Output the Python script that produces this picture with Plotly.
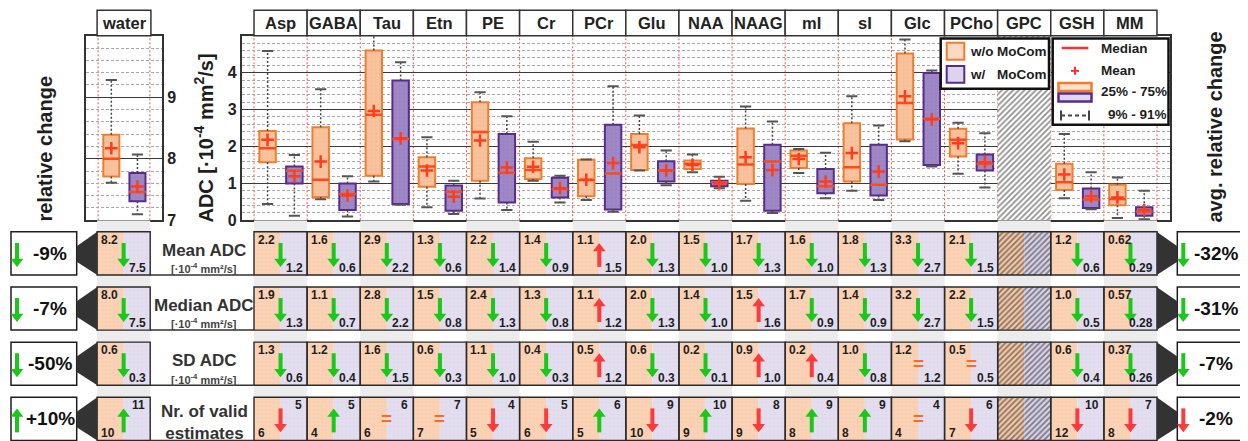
import plotly.graph_objects as go

# page body keeps its default 8px margin; the photographed area is slightly taller than
# the window, so vertical positions are stretched by S_Y to land on the reference pixels
PAGE_OFF = 8
S_Y = 1.0235
WF, HF = 1240, 446
FONT = "Liberation Sans"
TXT = "#262626"

# ---------------------------------------------------------------- data
METABS = ["Asp", "GABA", "Tau", "Etn", "PE", "Cr", "PCr", "Glu", "NAA", "NAAG",
          "mI", "sI", "Glc", "PCho", "GPC", "GSH", "MM"]

# box statistics w/o MoCom (None = no valid estimates)
WO_P9 = [0.44, 0.57, 1.05, 0.35, 0.59, 1.07, 0.55, 1.35, 1.30, 0.53, 1.28, 0.80, 2.14, 1.26, None, 0.60, 0.06]
WO_Q1 = [1.57, 0.63, 1.21, 0.91, 1.07, 1.12, 0.65, 1.36, 1.39, 0.98, 1.42, 1.05, 2.19, 1.73, None, 0.82, 0.41]
WO_MED = [1.95, 1.10, 2.86, 1.46, 2.39, 1.36, 1.09, 2.04, 1.53, 1.51, 1.75, 1.44, 3.18, 2.18, None, 1.03, 0.58]
WO_Q3 = [2.42, 2.52, 4.60, 1.71, 3.20, 1.68, 1.64, 2.34, 1.62, 2.49, 1.89, 2.63, 4.52, 2.48, None, 1.53, 0.96]
WO_P91 = [4.59, 3.55, 5.60, 2.25, 3.47, 2.13, 1.65, 2.84, 1.78, 3.08, 1.93, 3.36, 4.90, 2.64, None, 2.34, 1.16]
WO_MEAN = [2.18, 1.59, 2.96, 1.35, 2.16, 1.45, 1.10, 1.98, 1.50, 1.71, 1.66, 1.82, 3.36, 2.09, None, 1.24, 0.62]

# box statistics w/ MoCom
W_P9 = [0.12, 0.10, 0.42, 0.17, 0.28, 0.48, 0.23, 0.95, 0.87, 0.20, 0.60, 0.55, 1.46, 0.89, None, 0.30, 0.03]
W_Q1 = [1.00, 0.28, 0.44, 0.26, 0.48, 0.62, 0.29, 1.05, 0.92, 0.26, 0.73, 0.67, 1.50, 1.35, None, 0.33, 0.12]
W_MED = [1.34, 0.71, 2.20, 0.77, 1.29, 0.85, 1.27, 1.35, 1.03, 1.59, 0.92, 0.96, 2.75, 1.53, None, 0.56, 0.24]
W_Q3 = [1.46, 1.00, 3.79, 0.94, 2.34, 1.15, 2.59, 1.60, 1.07, 2.05, 1.39, 2.05, 3.99, 1.78, None, 0.86, 0.35]
W_P91 = [1.77, 1.19, 4.28, 1.07, 2.82, 1.21, 3.63, 1.89, 1.18, 2.68, 1.83, 2.57, 4.06, 2.36, None, 1.30, 0.80]
W_MEAN = [1.19, 0.67, 2.22, 0.64, 1.43, 0.87, 1.55, 1.35, 1.00, 1.36, 1.05, 1.32, 2.73, 1.57, None, 0.65, 0.28]

# water (relative change): p9, q1, median, q3, p91, mean
WATER_WO = [7.61, 7.71, 8.00, 8.39, 9.28, 8.17]
WATER_W = [7.10, 7.31, 7.46, 7.77, 8.07, 7.55]

# table: first entry = water, then METABS order
TAB_COLS = ["water"] + METABS
T_MEAN_WO = [8.2, 2.2, 1.6, 2.9, 1.3, 2.2, 1.4, 1.1, 2.0, 1.5, 1.7, 1.6, 1.8, 3.3, 2.1, None, 1.2, 0.62]
T_MEAN_W = [7.5, 1.2, 0.6, 2.2, 0.6, 1.4, 0.9, 1.5, 1.3, 1.0, 1.3, 1.0, 1.3, 2.7, 1.5, None, 0.6, 0.29]
T_MED_WO = [8.0, 1.9, 1.1, 2.8, 1.5, 2.4, 1.3, 1.1, 2.0, 1.4, 1.5, 1.7, 1.4, 3.2, 2.2, None, 1.0, 0.57]
T_MED_W = [7.5, 1.3, 0.7, 2.2, 0.8, 1.3, 0.8, 1.2, 1.3, 1.0, 1.6, 0.9, 0.9, 2.7, 1.5, None, 0.5, 0.28]
T_SD_WO = [0.6, 1.3, 1.2, 1.6, 0.6, 1.1, 0.4, 0.5, 0.6, 0.2, 0.9, 0.2, 1.0, 1.2, 0.5, None, 0.6, 0.37]
T_SD_W = [0.3, 0.6, 0.4, 1.5, 0.3, 1.0, 0.3, 1.2, 0.3, 0.1, 1.0, 0.4, 0.8, 1.2, 0.5, None, 0.4, 0.26]
T_N_WO = [10, 6, 4, 6, 7, 5, 6, 5, 10, 9, 9, 8, 8, 4, 7, None, 12, 8]
T_N_W = [11, 5, 5, 6, 7, 4, 5, 6, 9, 10, 8, 9, 9, 4, 6, None, 10, 7]
ROW_LABELS = ["Mean ADC", "Median ADC", "SD ADC", "Nr. of valid<br>estimates"]
ROW_UNITS = ["[·10<sup>-4</sup> mm²/s]", "[·10<sup>-4</sup> mm²/s]", "[·10<sup>-4</sup> mm²/s]", ""]
WATER_CHANGE = [-9, -7, -50, 10]      # %
AVG_CHANGE = [-32, -31, -7, -2]       # %
HIGHER_IS_BETTER = [False, False, False, True]

ROWS_WO = [T_MEAN_WO, T_MED_WO, T_SD_WO, T_N_WO]
ROWS_W = [T_MEAN_W, T_MED_W, T_SD_W, T_N_W]

# ---------------------------------------------------------------- styles
OR_FILL, OR_FG, OR_EDGE = "#f8c5a1", "#eea478", "#f07d2e"
PU_FILL, PU_FG, PU_EDGE = "#9f89c6", "#8670b4", "#5a2a8c"
CELL_OR, CELL_OR_FG = "#fbd3b6", "#f5bd98"
CELL_PU, CELL_PU_FG = "#e4dff0", "#d0c7e4"
MED_C, MEAN_C = "#ff4a1a", "#ff3c1c"
GREEN, RED, EQ_C = "#19c819", "#ff3a3a", "#ff6a22"
BAND = "#ececec"


def X(px):
    return (px - PAGE_OFF) / WF


def Y(py):
    return 1 - (py * S_Y - PAGE_OFF) / HF


REF_BOTTOM = (PAGE_OFF + HF) / S_Y   # reference-pixel row at the figure's bottom edge

fig = go.Figure()

# ---------------------------------------------------------------- box plots
BOX_W = 0.31
OFF_WO, OFF_W = -0.245, 0.26


def add_boxes(xpos, lo, q1, med, q3, hi, mn, fill, fg, edge, xa, ya):
    wx, wy = [], []
    for x, a, b, c, d in zip(xpos, lo, q1, q3, hi):
        wx += [x, x, None, x, x, None]
        wy += [c, d, None, b, a, None]
    common = dict(xaxis=xa, yaxis=ya, hoverinfo="skip", showlegend=False)
    fig.add_trace(go.Scatter(x=wx, y=wy, mode="lines",
                             line=dict(color="#444", width=1.5, dash="2px,2px"), **common))
    fig.add_trace(go.Scatter(x=list(xpos) + list(xpos), y=list(lo) + list(hi), mode="markers",
                             marker=dict(symbol="line-ew", size=8, line=dict(color="#555", width=2)),
                             **common))
    fig.add_trace(go.Bar(x=xpos, base=q1, y=[b - a for a, b in zip(q1, q3)], width=BOX_W,
                         marker=dict(color=fill, line=dict(color=edge, width=2),
                                     pattern=dict(shape="+", fgcolor=fg, size=4, solidity=0.25)),
                         **common))
    fig.add_trace(go.Scatter(x=xpos, y=med, mode="markers",
                             marker=dict(symbol="line-ew", size=12, line=dict(color=MED_C, width=2.5)),
                             **common))
    fig.add_trace(go.Scatter(x=xpos, y=mn, mode="markers",
                             marker=dict(symbol="cross-thin", size=9, line=dict(color=MEAN_C, width=2.5)),
                             **common))


# water panel
add_boxes([OFF_WO], [WATER_WO[0]], [WATER_WO[1]], [WATER_WO[2]], [WATER_WO[3]], [WATER_WO[4]],
          [WATER_WO[5]], OR_FILL, OR_FG, OR_EDGE, "x", "y")
add_boxes([OFF_W], [WATER_W[0]], [WATER_W[1]], [WATER_W[2]], [WATER_W[3]], [WATER_W[4]],
          [WATER_W[5]], PU_FILL, PU_FG, PU_EDGE, "x", "y")

# main panel: hatched column(s) with no estimate
na_idx = [i for i, v in enumerate(WO_MED) if v is None]
fig.add_trace(go.Bar(x=na_idx, base=[0] * len(na_idx), y=[5] * len(na_idx), width=1.0,
                     marker=dict(color="white", line=dict(width=0),
                                 pattern=dict(shape="/", fgcolor="#222", size=4, solidity=0.45)),
                     xaxis="x2", yaxis="y2", hoverinfo="skip", showlegend=False))

ok = [i for i, v in enumerate(WO_MED) if v is not None]
add_boxes([i + OFF_WO for i in ok], [WO_P9[i] for i in ok], [WO_Q1[i] for i in ok],
          [WO_MED[i] for i in ok], [WO_Q3[i] for i in ok], [WO_P91[i] for i in ok],
          [WO_MEAN[i] for i in ok], OR_FILL, OR_FG, OR_EDGE, "x2", "y2")
add_boxes([i + OFF_W for i in ok], [W_P9[i] for i in ok], [W_Q1[i] for i in ok],
          [W_MED[i] for i in ok], [W_Q3[i] for i in ok], [W_P91[i] for i in ok],
          [W_MEAN[i] for i in ok], PU_FILL, PU_FG, PU_EDGE, "x2", "y2")

# ---------------------------------------------------------------- table
U = 53.12        # px per column
ROW_PITCH = 55.0  # px per table row (reference pixels)
ROW0_C = 252.5   # px centre of first row
HALF = 21.5 / ROW_PITCH


def tx(px):
    return (px - 254) / U - 0.5


def ty(py):
    return (py - ROW0_C) / ROW_PITCH


WATER_X = tx(123.65)
LABEL_X = tx(204)
col_x = [WATER_X] + list(range(len(METABS)))

shapes = []
annos = []

# gray bands behind alternate columns
for cx in [WATER_X] + [i for i in range(len(METABS)) if i % 2 == 0]:
    shapes.append(dict(type="rect", xref="x3", yref="y3", x0=cx - 0.5, x1=cx + 0.5,
                       y0=ty(219.5), y1=ty(REF_BOTTOM + 2), fillcolor=BAND,
                       line=dict(width=0), layer="below"))

cell_or_x, cell_pu_x, cell_base = [], [], []
na_or_x, na_pu_x, na_base = [], [], []
arrows = {}  # (color, dir) -> list of (x, row)
for r in range(4):
    for c, cx in enumerate(col_x):
        if ROWS_WO[r][c] is None:
            na_or_x.append(cx - 0.25)
            na_pu_x.append(cx + 0.25)
            na_base.append(r - HALF)
        else:
            cell_or_x.append(cx - 0.25)
            cell_pu_x.append(cx + 0.25)
            cell_base.append(r - HALF)
        shapes.append(dict(type="rect", xref="x3", yref="y3", x0=cx - 0.5, x1=cx + 0.5,
                           y0=r - HALF, y1=r + HALF, line=dict(color="#2a2a2a", width=1.4)))

for xs, col, fg in [(cell_or_x, CELL_OR, CELL_OR_FG), (cell_pu_x, CELL_PU, CELL_PU_FG)]:
    fig.add_trace(go.Bar(x=xs, base=cell_base, y=[2 * HALF] * len(xs), width=0.5,
                         marker=dict(color=col, line=dict(width=0),
                                     pattern=dict(shape="+", fgcolor=fg, size=4, solidity=0.2)),
                         xaxis="x3", yaxis="y3", hoverinfo="skip", showlegend=False))
for xs, col in [(na_or_x, "#f4c7a6"), (na_pu_x, "#d8d2e8")]:
    fig.add_trace(go.Bar(x=xs, base=na_base, y=[2 * HALF] * len(xs), width=0.5,
                         marker=dict(color=col, line=dict(width=0),
                                     pattern=dict(shape="/", fgcolor="#222", size=4, solidity=0.45)),
                         xaxis="x3", yaxis="y3", hoverinfo="skip", showlegend=False))


def fmt(v, r, c):
    if r == 3:
        return str(int(v))
    if TAB_COLS[c] == "MM":
        return f"{v:.2f}"
    return f"{v:.1f}"


NUMF = dict(family=FONT, size=12, color="#1e1e1e", weight="bold")
for r in range(4):
    for c, cx in enumerate(col_x):
        a, b = ROWS_WO[r][c], ROWS_W[r][c]
        if a is None:
            continue
        if r < 3:
            annos.append(dict(xref="x3", yref="y3", x=cx - 0.5, y=r - HALF, xanchor="left",
                              yanchor="top", xshift=2, yshift=1, text=fmt(a, r, c), showarrow=False,
                              font=NUMF))
            annos.append(dict(xref="x3", yref="y3", x=cx + 0.5, y=r + HALF, xanchor="right",
                              yanchor="bottom", xshift=-2, yshift=-2, text=fmt(b, r, c),
                              showarrow=False, font=NUMF))
        else:
            annos.append(dict(xref="x3", yref="y3", x=cx + 0.5, y=r - HALF, xanchor="right",
                              yanchor="top", xshift=-3, yshift=1, text=fmt(b, r, c), showarrow=False,
                              font=NUMF))
            annos.append(dict(xref="x3", yref="y3", x=cx - 0.5, y=r + HALF, xanchor="left",
                              yanchor="bottom", xshift=2, yshift=-2, text=fmt(a, r, c),
                              showarrow=False, font=NUMF))
        if b == a:
            annos.append(dict(xref="x3", yref="y3", x=cx, y=r, text="=", showarrow=False,
                              font=dict(family=FONT, size=19, color=EQ_C, weight="bold")))
        else:
            d = "up" if b > a else "down"
            good = (d == "up") == HIGHER_IS_BETTER[r]
            arrows.setdefault((GREEN if good else RED, d), []).append((cx, r))

# summary boxes, funnels and arrows
SUMF = dict(family=FONT, size=19, color="#111", weight="bold")
LBOX = (tx(11), tx(76.7))
RBOX = (tx(1177.3), tx(1242.7))
for r in range(4):
    for x0, x1 in (LBOX, RBOX):
        shapes.append(dict(type="rect", xref="x3", yref="y3", x0=x0, x1=x1, y0=r - HALF,
                           y1=r + HALF, fillcolor="white", line=dict(color="#1e1e1e", width=1.5),
                           layer="below"))
    a, b, c2, d2 = tx(76.7), tx(97.3), tx(1156.7), tx(1177.3)
    t, m1, m2, bt = r - HALF, r - 0.13, r + 0.15, r + HALF
    shapes.append(dict(type="path", xref="x3", yref="y3",
                       path=f"M{a},{m1} L{b},{t} L{b},{bt} L{a},{m2} Z",
                       fillcolor="#333", line=dict(width=0)))
    shapes.append(dict(type="path", xref="x3", yref="y3",
                       path=f"M{c2},{t} L{d2},{m1} L{d2},{m2} L{c2},{bt} Z",
                       fillcolor="#333", line=dict(width=0)))
    for val, ax_, txx in ((WATER_CHANGE[r], tx(17), tx(50)), (AVG_CHANGE[r], tx(1183.3), tx(1216))):
        d = "up" if val > 0 else "down"
        good = (d == "up") == HIGHER_IS_BETTER[r]
        arrows.setdefault((GREEN if good else RED, d), []).append((ax_, r))
        annos.append(dict(xref="x3", yref="y3", x=txx, y=r, text=f"{val:+d}%", showarrow=False,
                          font=SUMF))
    # row labels
    if ROW_UNITS[r]:
        annos.append(dict(xref="x3", yref="y3", x=LABEL_X, y=r - 0.05, text=ROW_LABELS[r],
                          showarrow=False, font=dict(family=FONT, size=17, color="#333", weight="bold")))
        annos.append(dict(xref="x3", yref="y3", x=LABEL_X, y=r + 0.27, text=ROW_UNITS[r],
                          showarrow=False, font=dict(family=FONT, size=11, color="#444", weight="bold")))
    else:
        annos.append(dict(xref="x3", yref="y3", x=LABEL_X, y=r + 0.06, text=ROW_LABELS[r],
                          showarrow=False, font=dict(family=FONT, size=17, color="#333", weight="bold")))
    shapes.append(dict(type="line", xref="x3", yref="y3", x0=tx(150), x1=-0.5, y0=r + HALF,
                       y1=r + HALF, line=dict(color="#333", width=1.5)))

for (colr, d), pts in arrows.items():
    sx, sy, hx, hy = [], [], [], []
    for x, r in pts:
        if d == "down":
            sx += [x, x, None]
            sy += [r - 0.19, r + 0.11, None]
            hy.append(r + 0.145)
        else:
            sx += [x, x, None]
            sy += [r - 0.055, r + 0.245, None]
            hy.append(r - 0.09)
        hx.append(x)
    fig.add_trace(go.Scatter(x=sx, y=sy, mode="lines", line=dict(color=colr, width=4),
                             xaxis="x3", yaxis="y3", hoverinfo="skip", showlegend=False))
    fig.add_trace(go.Scatter(x=hx, y=hy, mode="markers",
                             marker=dict(symbol="triangle-down" if d == "down" else "triangle-up",
                                         size=11, color=colr, line=dict(width=0)),
                             xaxis="x3", yaxis="y3", hoverinfo="skip", showlegend=False))

# ---------------------------------------------------------------- panel decorations
# red dotted column separators
for xv in (-0.5, 0.5):
    shapes.append(dict(type="line", xref="x", yref="y domain", x0=xv, x1=xv, y0=0, y1=1,
                       line=dict(color="#ff4d4d", width=1, dash="2px,2px"), layer="below"))
for i in range(len(METABS) + 1):
    shapes.append(dict(type="line", xref="x2", yref="y2 domain", x0=i - 0.5, x1=i - 0.5, y0=0, y1=1,
                       line=dict(color="#ff4d4d", width=1, dash="2px,2px"), layer="below"))

# headers
HEADF = dict(family=FONT, size=16.5, color="#222", weight="bold")
shapes.append(dict(type="rect", xref="x", yref="paper", x0=-0.52, x1=0.52, y0=Y(35.5), y1=Y(10),
                   fillcolor="white", line=dict(color="#333", width=1.5)))
annos.append(dict(xref="x", yref="paper", x=0, y=Y(23), text="water", showarrow=False, font=HEADF))
for i, m in enumerate(METABS):
    shapes.append(dict(type="rect", xref="x2", yref="paper", x0=i - 0.5, x1=i + 0.5, y0=Y(35.5),
                       y1=Y(10), fillcolor="white", line=dict(color="#333", width=1.5)))
    annos.append(dict(xref="x2", yref="paper", x=i, y=Y(23), text=m, showarrow=False, font=HEADF))

# axis titles
TITF = dict(family=FONT, size=20, color="#1e1e1e", weight="bold")
annos.append(dict(xref="paper", yref="paper", x=X(45), y=Y(148), text="relative change",
                  textangle=-90, showarrow=False, font=TITF))
annos.append(dict(xref="paper", yref="paper", x=X(204), y=Y(137),
                  text="ADC [·10<sup>-4</sup> mm<sup>2</sup>/s]", textangle=-90, showarrow=False,
                  font=TITF))
annos.append(dict(xref="paper", yref="paper", x=X(1215), y=Y(127), text="avg. relative change",
                  textangle=-90, showarrow=False, font=TITF))

# legends
LEGF = dict(family=FONT, size=13.5, color="#1e1e1e", weight="bold")


def prect(x0, y0, x1, y1, fill, edge, lw):
    return dict(type="rect", xref="paper", yref="paper", x0=X(x0), x1=X(x1), y0=Y(y1), y1=Y(y0),
                fillcolor=fill, line=dict(color=edge, width=lw))


def pline(x0, y0, x1, y1, color, lw, dash="solid"):
    return dict(type="line", xref="paper", yref="paper", x0=X(x0), x1=X(x1), y0=Y(y0), y1=Y(y1),
                line=dict(color=color, width=lw, dash=dash))


def ptext(x, y, text, anchor="left"):
    return dict(xref="paper", yref="paper", x=X(x), y=Y(y), text=text, xanchor=anchor,
                showarrow=False, font=LEGF)


shapes += [prect(940.7, 38.3, 1049, 88.3, "white", "#111", 2.5),
           prect(946.7, 42.5, 964.3, 59.5, "#fbd9c2", OR_EDGE, 2),
           prect(946.7, 65.7, 964.3, 82.3, "#ddd4ec", PU_EDGE, 2),
           prect(1052.7, 38.3, 1168.5, 124.3, "white", "#111", 2.5),
           pline(1061.7, 47.7, 1088.3, 47.7, "#ff3030", 2.5),
           pline(1075, 66.5, 1075, 74.5, "#ff3030", 2),
           pline(1071, 70.5, 1079, 70.5, "#ff3030", 2),
           prect(1058.5, 82.7, 1091.5, 90.7, "#fbe0cc", OR_EDGE, 2.5),
           prect(1058.5, 93, 1091.5, 101, "#e0d8ee", PU_EDGE, 2.5),
           pline(1061, 115, 1089, 115, "#444", 2, "4px,3px"),
           pline(1061, 110, 1061, 120, "#444", 2),
           pline(1089, 110, 1089, 120, "#444", 2)]
annos += [ptext(968, 51, "w/o"), ptext(995, 51, "MoCom"),
          ptext(968, 74, "w/"), ptext(995, 74, "MoCom"),
          ptext(1099, 48, "Median"), ptext(1099, 70.5, "Mean"),
          ptext(1099, 91.5, "25% - 75%"), ptext(1106, 114, "9% - 91%")]

for an in annos:
    an.setdefault("xanchor", "center")
    an.setdefault("yanchor", "middle")

# ---------------------------------------------------------------- layout
TICKF = dict(family=FONT, size=16, color="#222", weight="bold")
grid_common = dict(showgrid=True, gridcolor="#3a3a3a", gridwidth=1, zeroline=False, ticks="",
                   showline=True, mirror=True, linecolor="#333", linewidth=1.5, tickfont=TICKF,
                   minor=dict(dtick=0.2, showgrid=True, gridcolor="#a8a8a8", griddash="3px,2px",
                              gridwidth=1))
xa_common = dict(showgrid=False, zeroline=False, showticklabels=False, ticks="", showline=True,
                 mirror=True, linecolor="#333", linewidth=1.5)
PLOT_DOM_Y = [Y(219.5), Y(35.5)]

fig.update_layout(
    width=WF, height=HF, margin=dict(l=0, r=0, t=0, b=0), autosize=False,
    paper_bgcolor="white", plot_bgcolor="rgba(0,0,0,0)", barmode="overlay",
    showlegend=False, font=dict(family=FONT, color=TXT),
    xaxis=dict(domain=[X(85.7), X(162.3)], range=[-0.74, 0.74], anchor="y", **xa_common),
    yaxis=dict(domain=PLOT_DOM_Y, range=[7, 10], anchor="x", side="right",
               tickvals=[7, 8, 9], **{**grid_common, "minor": dict(grid_common["minor"], tick0=7)}),
    xaxis2=dict(domain=[X(241.7), X(1170)], range=[-0.732, 16.745], anchor="y2", **xa_common),
    yaxis2=dict(domain=PLOT_DOM_Y, range=[0, 5], anchor="x2", tickvals=[0, 1, 2, 3, 4],
                **grid_common),
    xaxis3=dict(domain=[0, 1], range=[tx(PAGE_OFF), tx(PAGE_OFF + WF)], anchor="y3", visible=False),
    yaxis3=dict(domain=[0, Y(219.5)], range=[ty(REF_BOTTOM), ty(219.5)], anchor="x3",
                visible=False),
    shapes=shapes, annotations=annos,
)

fig.write_html("out.html", config={"displayModeBar": False})
